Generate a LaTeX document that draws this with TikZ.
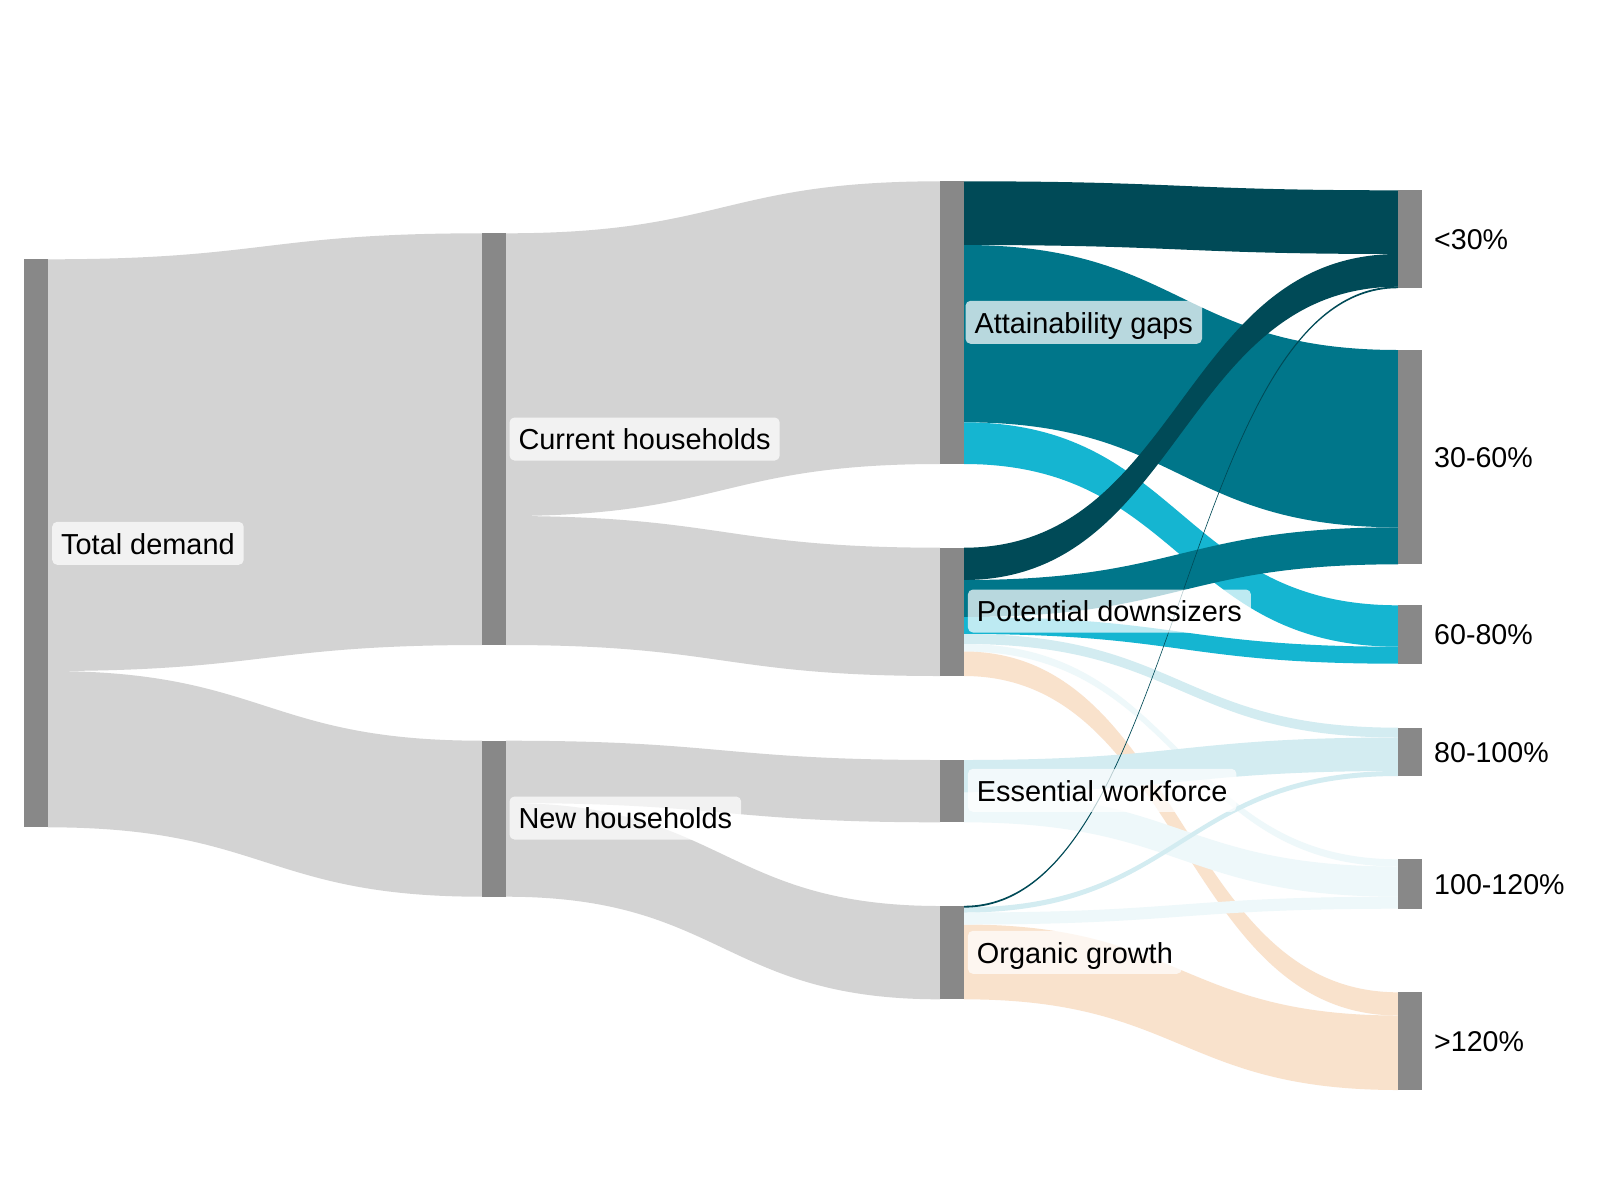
\documentclass[tikz,border=0pt]{standalone}
\usepackage{fontspec}
\setmainfont{Liberation Sans}
\definecolor{barc}{HTML}{888888}
\definecolor{linkgrey}{HTML}{D3D3D3}
\definecolor{dk}{HTML}{004A57}
\definecolor{teal}{HTML}{00768A}
\definecolor{cyanb}{HTML}{15B5D1}
\definecolor{lb}{HTML}{D3ECF1}
\definecolor{vl}{HTML}{EEF8FA}
\definecolor{peach}{HTML}{F9E2CC}
\newcommand\flowband[7]{%
  \fill[#1] (#2,#3) .. controls ({(#2+#5)/2},#3) and ({(#2+#5)/2},#6) .. (#5,#6)
    -- (#5,#7) .. controls ({(#2+#5)/2},#7) and ({(#2+#5)/2},#4) .. (#2,#4) -- cycle;}
\tikzset{
  bar/.style={fill=barc, draw=none, minimum width=24pt, inner sep=0pt, outer sep=0pt},
  lbl/.style={fill=white, fill opacity=0.72, text opacity=1, rounded corners=5pt,
    inner xsep=9pt, inner ysep=10.6pt, text height=21.8pt, text depth=0pt,
    anchor=west, font=\fontsize{28.9}{34}\selectfont},
  rlbl/.style={anchor=west, inner sep=0pt, text height=20.5pt, text depth=0pt,
    font=\fontsize{28.6}{34}\selectfont}
}
\begin{document}
\begin{tikzpicture}[x=1pt,y=-1pt]
\fill[white] (0,0) rectangle (1600,1200);
\useasboundingbox (0,0) rectangle (1600,1200);
% ---- column 1 -> 2
\flowband{linkgrey}{48}{259.3}{671}{482}{233.3}{645}
\flowband{linkgrey}{48}{671}{827.3}{482}{740.7}{896.7}
% ---- column 2 -> 3
\flowband{linkgrey}{506}{233.3}{516}{940}{181.3}{464}
\flowband{linkgrey}{506}{516}{645}{940}{547.7}{676}
\flowband{linkgrey}{506}{740.7}{803}{940}{760}{822.3}
\flowband{linkgrey}{506}{803}{896.7}{940}{906}{999.3}
% ---- column 3 -> 4 : Attainability gaps
\flowband{dk}{964}{181.3}{245}{1398}{190.3}{254}
\flowband{teal}{964}{245}{422.3}{1398}{350}{527.3}
\flowband{cyanb}{964}{422.3}{464}{1398}{605.3}{646.7}
% Potential downsizers
\flowband{dk}{964}{547.7}{580}{1398}{254}{286.7}
\flowband{teal}{964}{580}{617}{1398}{527.3}{564.3}
\flowband{cyanb}{964}{617}{634}{1398}{646.7}{663.7}
\flowband{lb}{964}{634}{644}{1398}{727.7}{737.5}
\flowband{vl}{964}{644}{651.5}{1398}{859.3}{866.5}
\flowband{peach}{964}{651.5}{676}{1398}{992.3}{1015.5}
% Essential workforce
\flowband{lb}{964}{760}{792.5}{1398}{737.5}{771}
\flowband{vl}{964}{792.5}{822.3}{1398}{866.5}{896.7}
% Organic growth
\flowband{peach}{964}{924.5}{999.3}{1398}{1015.5}{1090}
\flowband{vl}{964}{912.5}{924.5}{1398}{896.7}{908.7}
\flowband{lb}{964}{907.3}{912.5}{1398}{771}{776}
\flowband{dk}{964}{905.8}{907.6}{1398}{286.4}{288.2}
% ---- bars (nodes)
\node[bar, minimum height=568pt] (TD) at (36,543.3) {};
\node[bar, minimum height=411.7pt] (CH) at (494,439.15) {};
\node[bar, minimum height=156pt] (NH) at (494,818.7) {};
\node[bar, minimum height=282.7pt] (AG) at (952,322.65) {};
\node[bar, minimum height=128.3pt] (PD) at (952,611.85) {};
\node[bar, minimum height=62.3pt] (EW) at (952,791.15) {};
\node[bar, minimum height=93.3pt] (OG) at (952,952.65) {};
\node[bar, minimum height=97.7pt] (T1) at (1410,239.15) {};
\node[bar, minimum height=214.3pt] (T2) at (1410,457.15) {};
\node[bar, minimum height=58.4pt] (T3) at (1410,634.5) {};
\node[bar, minimum height=48.3pt] (T4) at (1410,751.85) {};
\node[bar, minimum height=49.4pt] (T5) at (1410,884) {};
\node[bar, minimum height=97.7pt] (T6) at (1410,1041.15) {};
% ---- labels
\node[lbl] (lTD) at (52,543.3) {Total demand};
\node[lbl] (lCH) at (509.3,439) {Current households};
\node[lbl] (lNH) at (509.3,818) {New households};
\node[lbl] (lAG) at (965.3,322.3) {Attainability gaps};
\node[lbl] (lPD) at (967.7,611) {Potential downsizers};
\node[lbl] (lEW) at (967.7,790.3) {Essential workforce};
\node[lbl] (lOG) at (967.7,952.3) {Organic growth};
\node[rlbl] (lT1) at (1434,239.2) {<30\%};
\node[rlbl] (lT2) at (1434,457.2) {30-60\%};
\node[rlbl] (lT3) at (1434,634.5) {60-80\%};
\node[rlbl] (lT4) at (1434,751.9) {80-100\%};
\node[rlbl] (lT5) at (1434,884) {100-120\%};
\node[rlbl] (lT6) at (1434,1041.2) {>120\%};
\end{tikzpicture}
\end{document}
